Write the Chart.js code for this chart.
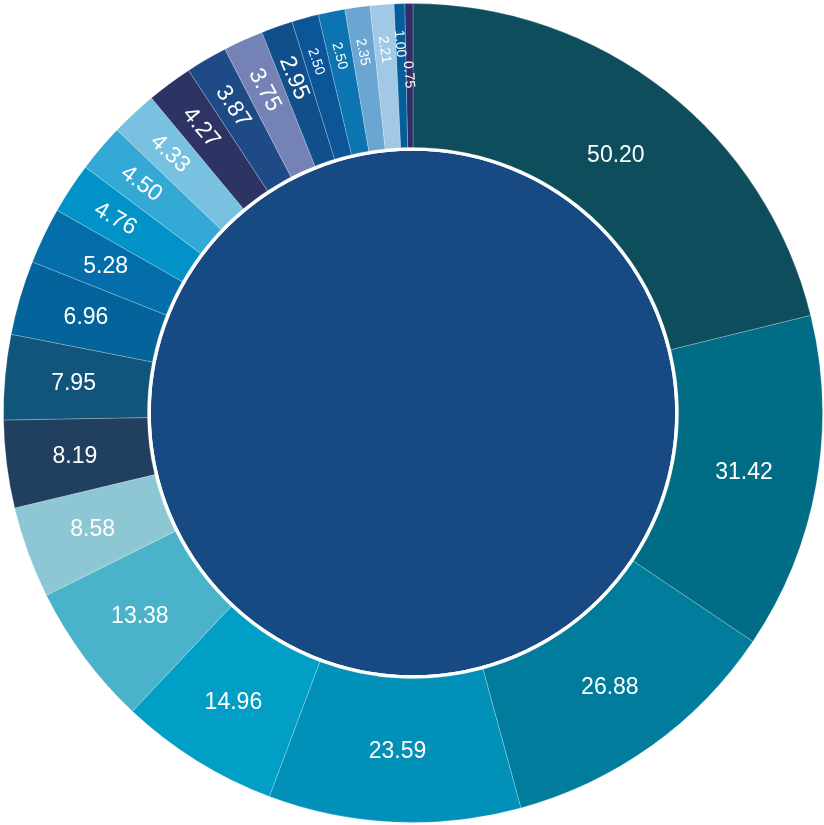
<!DOCTYPE html>
<html lang="en">

<head>
    <meta charset="UTF-8">
    <title>Doughnut</title>
    <style>
        html, body { margin: 0; padding: 0; background: #fff; }
        #wrap { width: 824px; height: 825px; }
    </style>
</head>

<body>

    <div id="wrap">
        <canvas id="myChart"></canvas>
    </div>

    <script src="https://cdn.jsdelivr.net/npm/chart.js"></script>
    <script>
        // outer ring values, clockwise from 12 o'clock
        const ringValues = [50.20, 31.42, 26.88, 23.59, 14.96, 13.38, 8.58, 8.19, 7.95, 6.96, 5.28, 4.76,
            4.50, 4.33, 4.27, 3.87, 3.75, 2.95, 2.50, 2.50, 2.35, 2.21, 1.00, 0.75];
        const ringColors = ['#0e4d5c', '#016c85', '#017c9c', '#0190b7', '#019fc5', '#4ab3c9', '#8cc7d3', '#213f5f',
            '#12557a', '#03639a', '#046eab', '#0192c7', '#34a9d5', '#78c1e0', '#2d3362', '#1e4a85',
            '#7582b6', '#104f8a', '#0b5598', '#0c74b0', '#6aa6d1', '#a1c8e4', '#045e9a', '#2d2f66'];
        const innerValue = [100];
        const innerColor = '#174a83';

        // labels in thin slices are turned to run along the radius
        const labelPlugin = {
            id: 'ringLabels',
            afterDatasetsDraw(chart) {
                const ctx = chart.ctx;
                const meta = chart.getDatasetMeta(0);
                let lastTinyOuter = false;
                ctx.save();
                ctx.fillStyle = '#fff';
                ctx.textAlign = 'center';
                ctx.textBaseline = 'middle';
                meta.data.forEach((arc, i) => {
                    const v = ringValues[i];
                    const mid = (arc.startAngle + arc.endAngle) / 2;
                    const R = arc.outerRadius, r0 = arc.innerRadius;
                    const midR = (r0 + R) / 2;
                    const text = v.toFixed(2);
                    let r, rot = 0, size = 23;
                    if (v >= 5) {
                        // halfway between the ring middle and the slice centroid
                        const half = (arc.endAngle - arc.startAngle) / 2;
                        const cR = (2 / 3) * (R * R * R - r0 * r0 * r0) / (R * R - r0 * r0) * Math.sin(half) / half;
                        r = (cR + midR) / 2 + 1;
                    } else {
                        rot = mid + Math.PI - 0.06;
                        if (v < 2.9) size = 14;
                        r = midR + (size > 20 ? 18 : 27);
                        // stagger neighbouring hairline slices
                        const arcLen = (arc.endAngle - arc.startAngle) * midR;
                        if (arcLen < 10) {
                            if (lastTinyOuter) r = midR + 1;
                            else r = midR + 32;
                            lastTinyOuter = !lastTinyOuter;
                        }
                    }
                    const x = arc.x + Math.cos(mid) * r;
                    const y = arc.y + Math.sin(mid) * r;
                    ctx.save();
                    ctx.translate(x, y);
                    ctx.rotate(rot);
                    ctx.font = size + 'px "Liberation Sans", Arial, sans-serif';
                    ctx.fillText(text, 0, 1);
                    ctx.restore();
                });
                ctx.restore();
            }
        };

        const ctx = document.getElementById("myChart");

        let v_chart = new Chart(ctx, {
            type: 'pie',
            data: {
                labels: ringValues.map(v => v.toFixed(2)),
                datasets: [{
                    data: ringValues,
                    backgroundColor: ringColors,
                    borderWidth: 1,
                    borderColor: 'rgba(255,255,255,0.22)',
                    weight: 144
                }, {
                    // white gap between ring and centre disc
                    data: [1],
                    backgroundColor: '#ffffff',
                    borderWidth: 0,
                    weight: 3.4
                }, {
                    data: innerValue,
                    backgroundColor: innerColor,
                    borderWidth: 0,
                    weight: 262.3
                }]
            },
            options: {
                responsive: true,
                maintainAspectRatio: false,
                animation: false,
                events: [],
                layout: { padding: { left: 3, right: 1, top: 3, bottom: 2 } },
                plugins: {
                    legend: { display: false },
                    tooltip: { enabled: false }
                }
            },
            plugins: [labelPlugin]
        });
    </script>
</body>

</html>
